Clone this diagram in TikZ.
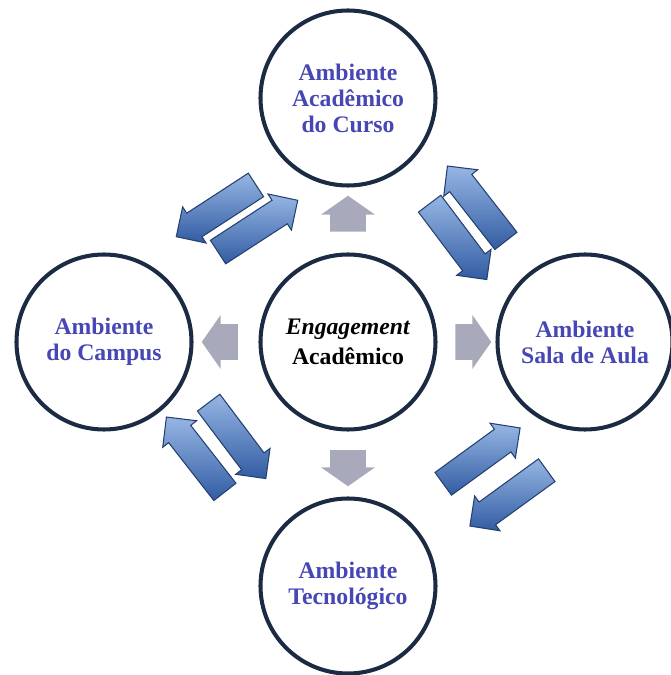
\documentclass[tikz,border=0pt]{standalone}
\usepackage{fontspec}
\setmainfont{Liberation Serif}
\usetikzlibrary{positioning, shapes.arrows}
\definecolor{ringblue}{RGB}{28,43,68}
\definecolor{labelblue}{RGB}{70,70,180}
\definecolor{flowgray}{RGB}{168,170,188}
\definecolor{arrowlight}{RGB}{150,182,228}
\definecolor{arrowdark}{RGB}{50,92,162}
\definecolor{arrowedge}{RGB}{36,64,112}

\begin{document}
\begin{tikzpicture}[on grid, node distance = 4.88cm,
	env/.style = {circle, draw = ringblue, line width = 2.3pt, minimum size = 3.5cm, inner sep = 0pt,
		align = center, text = labelblue, font = \fontsize{13.5}{14.8}\selectfont\bfseries},
	flow/.style = {single arrow, fill = flowgray, rotate = #1, minimum height = 0.72cm,
		inner xsep = 0pt, inner ysep = 0.35cm, single arrow head extend = 0.18cm, single arrow tip angle = 110},
	swap/.style = {single arrow, draw = arrowedge, line width = 0.6pt, top color = arrowlight,
		bottom color = arrowdark, rotate = #1, minimum height = 1.9cm, inner xsep = 0pt,
		inner ysep = 0.27cm, single arrow head extend = 0.15cm}]
			\useasboundingbox (0,0) rectangle (13.42,13.5);
			% the five environments
			\node (eng) [env, text = black, font = \fontsize{13.5}{17}\selectfont\bfseries] at (6.96,6.66) {\textit{Engagement}\\Acadêmico};
			\node (curso) [env, above = of eng] {Ambiente\\Acadêmico\\do Curso};
			\node (campus) [env, left = of eng] {Ambiente\\do Campus};
			\node (aula) [env, right = 4.74cm of eng] {Ambiente\\Sala de Aula};
			\node (tec) [env, below = of eng] {Ambiente\\Tecnológico};
			% grey arrows out of the centre
			\node (fup) [flow = 90, above = 2.44cm of eng] {};
			\node (fleft) [flow = 180, left = 2.44cm of eng] {};
			\node (fright) [flow = 0, right = 2.38cm of eng] {};
			\node (fdown) [flow = -90, below = 2.4cm of eng] {};
			% blue arrows between the outer environments
			\node (sw1) [swap = 213] at (4.44,9.36) {};
			\node (sw2) [swap = 33] at (5.04,8.90) {};
			\node (sw3) [swap = -53] at (9.08,8.78) {};
			\node (sw4) [swap = 128] at (9.62,9.32) {};
			\node (sw5) [swap = 128] at (4.00,4.30) {};
			\node (sw6) [swap = -53] at (4.66,4.80) {};
			\node (sw7) [swap = 36] at (9.52,4.30) {};
			\node (sw8) [swap = 216] at (10.28,3.62) {};
\end{tikzpicture}
\end{document}
